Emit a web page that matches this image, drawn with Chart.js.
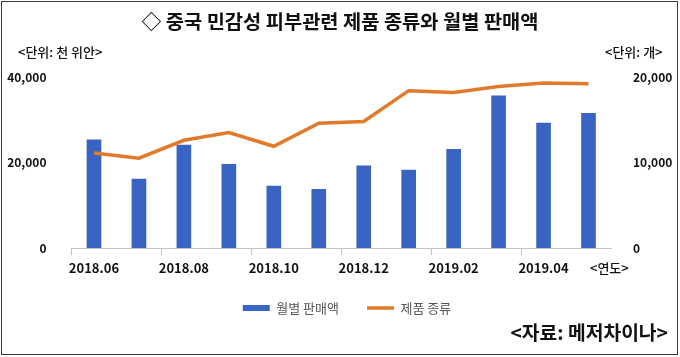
<!DOCTYPE html>
<html><head><meta charset="utf-8">
<script src="https://cdn.jsdelivr.net/npm/chart.js@4"></script>
<style>
html,body{margin:0;padding:0;background:#fff;}
#wrap{position:relative;width:680px;height:357px;font-family:"Noto Sans CJK KR","Noto Sans",sans-serif;}
#frame{position:absolute;left:1px;top:1px;width:677px;height:354px;border:1px solid #3a3a3a;box-sizing:border-box;pointer-events:none;}
.t{position:absolute;white-space:nowrap;color:#111;line-height:1;}
#title{left:0;width:680px;text-align:center;top:11px;font-size:19.8px;font-weight:700;}
#uL{left:18px;top:45px;font-size:13px;font-weight:500;}
#uR{left:605px;top:45px;font-size:13px;font-weight:500;}
#yr{left:590px;top:261px;font-size:13px;font-weight:500;}
#src{right:12px;top:323px;font-size:19.3px;font-weight:700;}
canvas{position:absolute;left:0;top:0;}
</style></head>
<body>
<div id="wrap">
<canvas id="c" width="680" height="357"></canvas>
<div class="t" id="title">◇ 중국 민감성 피부관련 제품 종류와 월별 판매액</div>
<div class="t" id="uL">&lt;단위: 천 위안&gt;</div>
<div class="t" id="uR">&lt;단위: 개&gt;</div>
<div class="t" id="yr">&lt;연도&gt;</div>
<div class="t" id="src">&lt;자료: 메저차이나&gt;</div>
<div id="frame"></div>
</div>
<script>
const months = ['2018.06','2018.07','2018.08','2018.09','2018.10','2018.11','2018.12','2019.01','2019.02','2019.03','2019.04','2019.05'];
const monthlySales = [25300, 16100, 24100, 19600, 14500, 13700, 19200, 18200, 23100, 35600, 29200, 31500];
const productTypes = [11100, 10500, 12600, 13500, 11900, 14600, 14800, 18400, 18200, 18900, 19300, 19200];
const leftTicks = [0, 20000, 40000];
const rightTicks = [0, 10000, 20000];
const seriesNames = ['월별 판매액', '제품 종류'];

const BLUE = '#3A64C2';
const ORANGE = '#E07A2C';
const fmt = v => Number(v).toLocaleString('en-US');

const shiftLegend = {
  id: 'shiftLegend',
  afterLayout(c) {
    const l = c.legend;
    l.left += 7; l.right += 7;
    l.top -= 2.5; l.bottom -= 2.5;
  }
};

new Chart(document.getElementById('c'), {
  data: {
    labels: months,
    datasets: [
      {type:'line', label: seriesNames[1], data: productTypes, yAxisID:'y1', borderColor: ORANGE, borderWidth: 3.5, pointRadius: 0, tension: 0, order: 0},
      {type:'bar', label: seriesNames[0], data: monthlySales, yAxisID:'y', backgroundColor: BLUE, barThickness: 14, order: 1}
    ]
  },
  plugins: [shiftLegend],
  options: {
    responsive: false,
    animation: false,
    layout: {padding: {top: 77, bottom: 30, left: 0, right: 0}},
    plugins: {
      tooltip: {enabled: false},
      legend: {
        position: 'bottom',
        labels: {
          usePointStyle: true,
          pointStyleWidth: 27,
          boxWidth: 27,
          boxHeight: 6,
          padding: 28,
          color: '#555',
          font: {family: '"Noto Sans CJK KR"', size: 13},
          generateLabels: () => [
            {text: seriesNames[0], fillStyle: BLUE, strokeStyle: BLUE, lineWidth: 0, pointStyle: 'rect', datasetIndex: 1, fontColor: '#555'},
            {text: seriesNames[1], fillStyle: ORANGE, strokeStyle: ORANGE, lineWidth: 3.5, pointStyle: 'line', datasetIndex: 0, fontColor: '#555'}
          ]
        }
      }
    },
    scales: {
      x: {
        offset: true,
        grid: {offset: true, drawOnChartArea: false, drawTicks: true, tickLength: 7,
               color: c => (c.index % 2 === 0 ? '#c4c4c4' : 'rgba(0,0,0,0)')},
        border: {display: true, color: '#c4c4c4'},
        ticks: {autoSkip: false, maxRotation: 0, padding: 5, color: '#111',
                font: {family: '"Noto Sans CJK KR"', size: 13, weight: 'bold'},
                callback: (v, i) => (i % 2 === 0 ? months[i] : '')},
        afterFit: s => { s.height = 28; }
      },
      y: {
        position: 'left', min: leftTicks[0], max: leftTicks[2],
        grid: {display: false}, border: {display: false},
        afterBuildTicks: s => { s.ticks = leftTicks.map(v => ({value: v})); },
        ticks: {padding: 17, color: '#111', font: {family: '"Noto Sans CJK KR"', size: 12, weight: 'bold'}, callback: v => fmt(v)},
        afterFit: s => { s.width = 71.5; }
      },
      y1: {
        position: 'right', min: rightTicks[0], max: rightTicks[2],
        grid: {display: false}, border: {display: false},
        afterBuildTicks: s => { s.ticks = rightTicks.map(v => ({value: v})); },
        ticks: {padding: 14, color: '#111', font: {family: '"Noto Sans CJK KR"', size: 12, weight: 'bold'}, callback: v => fmt(v)},
        afterFit: s => { s.width = 69; }
      }
    }
  }
});
</script>
</body></html>
